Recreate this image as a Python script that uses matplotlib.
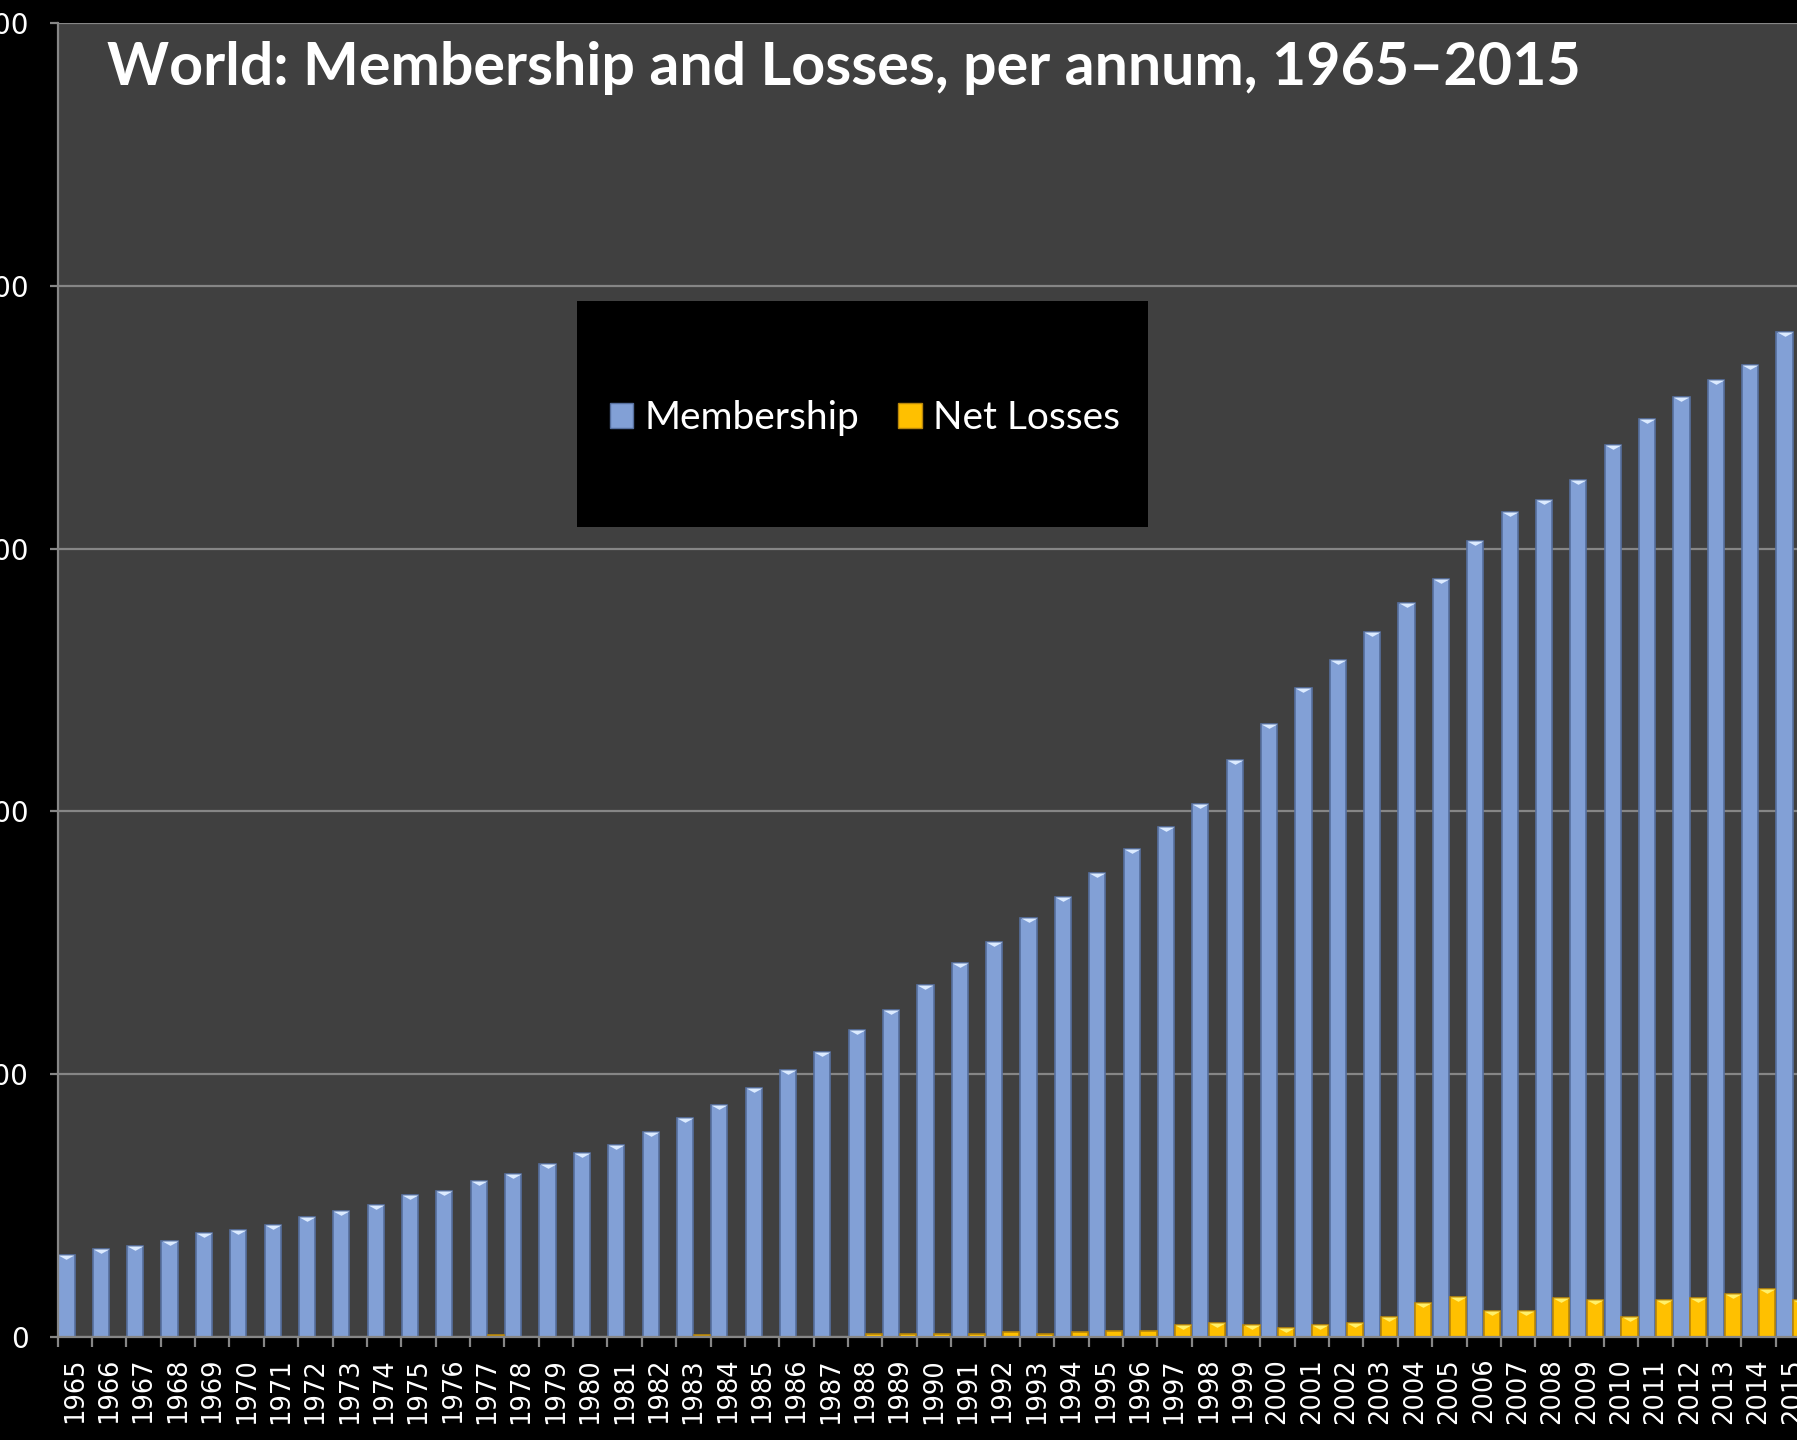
import numpy as np
import matplotlib
matplotlib.use("Agg")
from matplotlib import pyplot as plt
from matplotlib.patches import Patch, Rectangle
from matplotlib.ticker import FuncFormatter, MultipleLocator

years = list(range(1965, 2016))

# membership, millions
membership = [
    1.56, 1.67, 1.74, 1.82, 1.98, 2.04, 2.13, 2.28, 2.39, 2.52,
    2.70, 2.78, 2.96, 3.11, 3.29, 3.50, 3.66, 3.90, 4.16, 4.42,
    4.73, 5.08, 5.43, 5.84, 6.23, 6.69, 7.11, 7.52, 7.98, 8.37,
    8.83, 9.29, 9.71, 10.14, 10.97, 11.67, 12.35, 12.89, 13.42, 13.96,
    14.42, 15.14, 15.69, 15.93, 16.30, 16.98, 17.46, 17.89, 18.20, 18.50,
    19.12,
]

# net losses, millions
net_losses = [
    0.0, 0.0, 0.0, 0.0, 0.0, 0.0, 0.0, 0.0, 0.0, 0.0,
    0.0, 0.0, 0.03, 0.0, 0.0, 0.0, 0.0, 0.0, 0.03, 0.0,
    0.0, 0.0, 0.01, 0.05, 0.05, 0.05, 0.05, 0.10, 0.05, 0.10,
    0.11, 0.11, 0.22, 0.27, 0.22, 0.17, 0.22, 0.27, 0.39, 0.65,
    0.76, 0.50, 0.50, 0.75, 0.70, 0.38, 0.70, 0.75, 0.81, 0.91,
    0.70,
]

y_ticks = [0, 5, 10, 15, 20, 25]

title = "World: Membership and Losses, per annum, 1965\u20132015"

BLUE = "#82A0D6"
BLUE_EDGE = "#566F9E"
BLUE_CAP = "#DCEBFF"
GOLD = "#FFC000"
GOLD_EDGE = "#B8860B"
GOLD_CAP = "#FFF06A"

fig = plt.figure(figsize=(17.97, 14.40), dpi=100, facecolor="black")
# the plot runs off the right edge of the picture, as in the source
ax = fig.add_axes([0.0321, 0.0715, 0.9752, 0.9125])
ax.set_facecolor("#404040")

x = np.arange(len(years))
m = np.array(membership) * 1e6
n = np.array(net_losses) * 1e6

ax.bar(x - 0.245, m, width=0.47, color=BLUE, edgecolor=BLUE_EDGE, linewidth=1.2, zorder=3)
ax.bar(x + 0.245, n, width=0.47, color=GOLD, edgecolor=GOLD_EDGE, linewidth=1.2, zorder=3)

# little bevel triangles on the bar tops
cap = [(-1, 0), (1, 0), (0, -0.55), (-1, 0)]
ax.scatter(x - 0.245, m, marker=cap, s=130, color=BLUE_CAP, linewidths=0, zorder=4)
big = n > 0.15e6
ax.scatter((x + 0.245)[big], n[big], marker=cap, s=130, color=GOLD_CAP, linewidths=0, zorder=4)

ax.set_xlim(-0.5, len(years) - 0.5)
ax.set_ylim(0, 25e6)
ax.set_yticks([v * 1e6 for v in y_ticks])
ax.yaxis.set_major_formatter(FuncFormatter(lambda v, p: f"{int(v):,}"))
ax.grid(axis="y", color="#868686", linewidth=1.6, zorder=1)

ax.set_xticks(x)
ax.set_xticklabels([str(y) for y in years], rotation=90)
ax.xaxis.set_minor_locator(MultipleLocator(1, offset=0.5))
ax.tick_params(axis="x", which="major", length=0, pad=15, labelsize=18.5,
               labelcolor="white")
ax.tick_params(axis="x", which="minor", length=7, width=1.6, color="#868686")
ax.tick_params(axis="y", length=6, width=1.6, color="#868686", pad=15,
               labelsize=20, labelcolor="white")

for side in ("top", "right"):
    ax.spines[side].set_visible(False)
for side in ("left", "bottom"):
    ax.spines[side].set_color("#868686")
    ax.spines[side].set_linewidth(1.6)
    ax.spines[side].set_zorder(5)

fig.text(107 / 1797, 1 - 85 / 1440, title, color="white", fontsize=42.6,
         fontweight="bold", family=["Lato", "DejaVu Sans"], va="baseline", ha="left")

# legend box
fig.patches.append(Rectangle((577 / 1797, 1 - 527 / 1440), 571 / 1797, 226 / 1440,
                             transform=fig.transFigure, facecolor="black",
                             edgecolor="none", zorder=5))
handles = [Patch(facecolor=BLUE, edgecolor=BLUE_EDGE, label="Membership"),
           Patch(facecolor=GOLD, edgecolor=GOLD_EDGE, label="Net Losses")]
leg = fig.legend(handles=handles, loc="center", bbox_to_anchor=(865 / 1797, 1 - 418 / 1440),
                 ncol=2, frameon=False, handlelength=0.6, handleheight=0.6,
                 handletextpad=0.3, columnspacing=1.0,
                 prop={"family": ["Lato", "DejaVu Sans"], "size": 28})
leg.set_zorder(6)
for t in leg.get_texts():
    t.set_color("white")

fig.savefig("out.png", dpi=100, facecolor="black")
